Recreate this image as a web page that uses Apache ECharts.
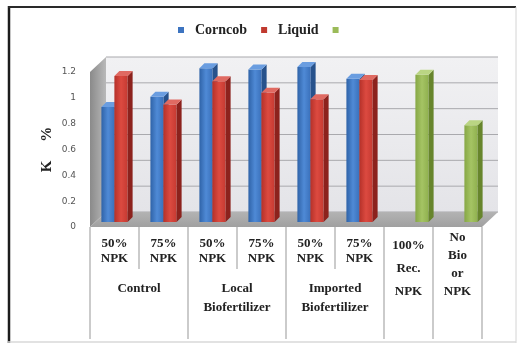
<!DOCTYPE html>
<html>
<head>
<meta charset="utf-8">
<script src="https://cdn.jsdelivr.net/npm/echarts@6/dist/echarts.min.js"></script>
<style>
  html, body { margin: 0; padding: 0; background: #ffffff; }
  #chart { width: 523px; height: 345px; }
</style>
</head>
<body>
<div id="chart"></div>
<script>
// Treatments along the x axis (line breaks as they wrap under each column)
const categories = ['50%\nNPK', '75%\nNPK', '50%\nNPK', '75%\nNPK', '50%\nNPK', '75%\nNPK',
                    '100%\nRec.\nNPK', 'No\nBio\nor\nNPK'];
// Fertilizer groups spanning the first six treatments
const groups = ['Control', 'Local\nBiofertilizer', 'Imported\nBiofertilizer'];
const groupSizes = [2, 2, 2];

// K % values per series
const corncob = [0.89, 0.97, 1.19, 1.18, 1.20, 1.11, null, null];
const liquid = [1.13, 0.91, 1.09, 1.00, 0.95, 1.10, null, null];
const reference = [null, null, null, null, null, null, 1.14, 0.75];

// Value axis ticks
const kTicks = [0, 0.2, 0.4, 0.6, 0.8, 1, 1.2];

// ---- layout of the pseudo-3D box ----
const DEPTH = { dx: 16, dy: -15 };      // back wall offset from the front plane
const BAR_SHIFT = { dx: 4, dy: -5 };    // where the bar fronts sit inside the box
const BAR_SIDE = { dx: 5, dy: -5 };     // visible bar depth
const BAR_W = 0.27;                     // bar width as a share of the category band

const SERIF = '"Liberation Serif", "Times New Roman", serif';

// group label positions and table line positions on a 0..N scale
let start = 0;
const groupCenters = [];
const tableLines = [0];
groupSizes.forEach(s => { groupCenters.push(start + s / 2); start += s; tableLines.push(start); });
for (let i = start + 1; i <= categories.length; i++) tableLines.push(i);
const groupLabelAt = {};
groupCenters.forEach((c, k) => { groupLabelAt[c] = groups[k]; });

// per-category label spacing depending on how many lines it wraps to
function catLabelStyle(text) {
  const n = text.split('\n').length;
  if (n <= 2) return { lineHeight: 15, padding: [7, 0, 0, 0] };
  if (n === 3) return { lineHeight: 23, padding: [5, 0, 0, 0] };
  return { lineHeight: 18, padding: [0, 0, 0, 0] };
}

function lin(x2, y2, stops) {
  return { type: 'linear', x: 0, y: 0, x2: x2, y2: y2,
           colorStops: stops.map((c, i) => ({ offset: i / (stops.length - 1), color: c })) };
}

// walls, floor and back-wall gridlines
function renderFrame(params, api) {
  const cs = params.coordSys;
  const x0 = cs.x, x1 = cs.x + cs.width;
  const y0 = api.coord([0, kTicks[0]])[1];
  const yTop = api.coord([0, kTicks[kTicks.length - 1]])[1];
  const dx = DEPTH.dx, dy = DEPTH.dy;
  const children = [];
  children.push({
    type: 'rect',
    shape: { x: x0 + dx, y: yTop + dy, width: x1 - x0, height: y0 - yTop },
    style: { fill: lin(0, 1, ['#f1f1f3', '#e4e4e8']) }
  });
  children.push({
    type: 'polygon',
    shape: { points: [[x0, y0], [x0, yTop], [x0 + dx, yTop + dy], [x0 + dx, y0 + dy]] },
    style: { fill: lin(1, 0, ['#8a8a8a', '#b9b9b9']) }
  });
  kTicks.forEach(t => {
    const y = api.coord([0, t])[1] + dy;
    children.push({
      type: 'line',
      shape: { x1: x0 + dx, y1: y, x2: x1 + dx, y2: y },
      style: { stroke: '#a9a9ad', lineWidth: 1 }
    });
  });
  children.push({
    type: 'polygon',
    shape: { points: [[x0, y0], [x1, y0], [x1 + dx, y0 + dy], [x0 + dx, y0 + dy]] },
    style: { fill: lin(0, 1, ['#b3b3b3', '#a0a0a0']) }
  });
  return { type: 'group', children: children };
}

function barSeries(name, values, offset, pal) {
  return {
    type: 'custom',
    name: name,
    z: 3,
    itemStyle: { color: pal.legend },
    data: values.map((v, i) => [i, v]),
    encode: { x: 0, y: 1 },
    renderItem: function (params, api) {
      const v = api.value(1);
      if (v === null || v === undefined || isNaN(v)) return null;
      const i = api.value(0);
      const bw = api.size([1, 0])[0];
      const p0 = api.coord([i, 0]);
      const p1 = api.coord([i, v]);
      const w = bw * BAR_W;
      const cx = p0[0] + bw * offset + BAR_SHIFT.dx;
      const xl = cx - w / 2, xr = cx + w / 2;
      const yb = p0[1] + BAR_SHIFT.dy, yt = p1[1] + BAR_SHIFT.dy;
      const sx = BAR_SIDE.dx, sy = BAR_SIDE.dy;
      return {
        type: 'group',
        children: [
          { type: 'rect', shape: { x: xl, y: yt, width: w, height: yb - yt },
            style: { fill: lin(1, 0, pal.front) } },
          { type: 'polygon', shape: { points: [[xr, yt], [xr + sx, yt + sy], [xr + sx, yb + sy], [xr, yb]] },
            style: { fill: pal.side } },
          { type: 'polygon', shape: { points: [[xl, yt], [xr, yt], [xr + sx, yt + sy], [xl + sx, yt + sy]] },
            style: { fill: pal.top } }
        ]
      };
    }
  };
}

const chart = echarts.init(document.getElementById('chart'), null, { renderer: 'canvas' });

chart.setOption({
  animation: false,
  backgroundColor: '#ffffff',
  legend: {
    data: ['Corncob', 'Liquid', ' '],
    left: 173,
    top: 18,
    icon: 'rect',
    itemWidth: 6,
    itemHeight: 6,
    itemGap: 14,
    textStyle: { fontFamily: SERIF, fontWeight: 'bold', fontSize: 14, color: '#222', padding: [0, 0, 0, 6] }
  },
  grid: { left: 90, right: 41, top: 72, bottom: 118 },
  xAxis: [
    {
      type: 'category',
      data: categories.map(c => ({ value: c, textStyle: catLabelStyle(c) })),
      axisLine: { show: false },
      axisTick: { show: true, length: 42, lineStyle: { color: '#cbcbcb', width: 2 } },
      axisLabel: {
        interval: 0, margin: 2, verticalAlign: 'top',
        fontFamily: SERIF, fontWeight: 'bold', fontSize: 13, color: '#222'
      },
      splitLine: { show: false }
    },
    {
      type: 'value',
      position: 'bottom',
      min: 0,
      max: categories.length,
      axisLine: { show: false },
      splitLine: { show: false },
      axisTick: { show: true, customValues: tableLines, length: 112,
                  lineStyle: { color: '#cbcbcb', width: 2 } },
      axisLabel: {
        customValues: groupCenters,
        formatter: v => groupLabelAt[v] || '',
        margin: 52, verticalAlign: 'top', lineHeight: 19,
        fontFamily: SERIF, fontWeight: 'bold', fontSize: 13, color: '#222'
      }
    }
  ],
  yAxis: {
    type: 'value',
    min: kTicks[0],
    max: kTicks[kTicks.length - 1],
    interval: kTicks[1] - kTicks[0],
    name: 'K     %',
    nameLocation: 'middle',
    nameRotate: 90,
    nameGap: 35,
    nameMoveOverlap: false,
    nameTextStyle: { fontFamily: SERIF, fontWeight: 'bold', fontSize: 15, color: '#222' },
    axisLine: { show: false },
    axisTick: { show: false },
    splitLine: { show: false },
    axisLabel: { margin: 14, fontFamily: '"DejaVu Sans", sans-serif', fontSize: 9, color: '#555' }
  },
  series: [
    { type: 'custom', name: 'frame', z: 1, silent: true, data: [[0, 0]],
      encode: { x: 0, y: 1 }, renderItem: renderFrame },
    barSeries('Corncob', corncob, -0.214, {
      legend: '#3d74c0', front: ['#2f63a8', '#4f8ad6', '#3a70ba'], side: '#27528c', top: '#6a9de0' }),
    barSeries('Liquid', liquid, 0.051, {
      legend: '#c0392f', front: ['#b53129', '#dc4a40', '#c63a32'], side: '#8c221d', top: '#e06a62' }),
    barSeries(' ', reference, 0.194, {
      legend: '#9bbb59', front: ['#86a745', '#a5c464', '#8fb04e'], side: '#67852c', top: '#bad583' })
  ],
  graphic: [
    { type: 'line', shape: { x1: 9, y1: 6, x2: 9, y2: 343 }, style: { stroke: '#1c1c1c', lineWidth: 2.5 } },
    { type: 'line', shape: { x1: 8, y1: 7, x2: 516, y2: 7 }, style: { stroke: '#2a2a2a', lineWidth: 2 } },
    { type: 'line', shape: { x1: 516, y1: 7, x2: 516, y2: 343 }, style: { stroke: '#d4d4d4', lineWidth: 1 } },
    { type: 'line', shape: { x1: 8, y1: 342, x2: 516, y2: 342 }, style: { stroke: '#d8d8d8', lineWidth: 1.5 } }
  ]
});
</script>
</body>
</html>
